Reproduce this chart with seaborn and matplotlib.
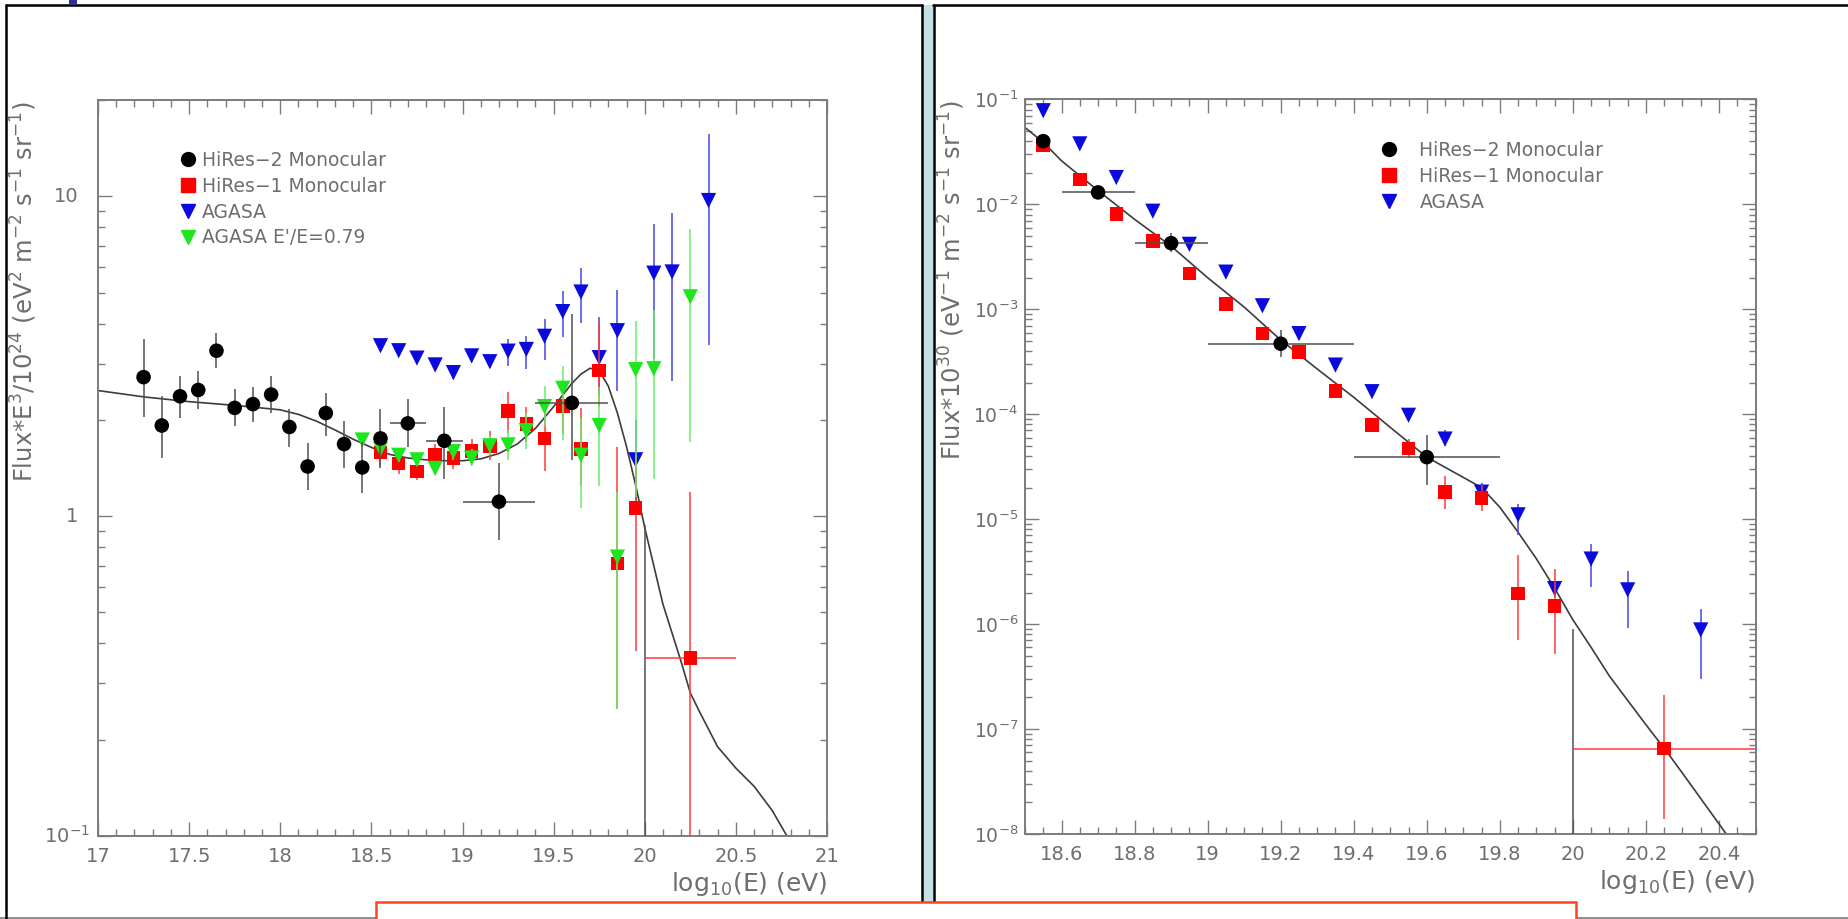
import numpy as np
import pandas as pd
import matplotlib
matplotlib.use("Agg")
import matplotlib.pyplot as plt
import seaborn as sns
from matplotlib.patches import Rectangle
from matplotlib.lines import Line2D
from matplotlib.ticker import FixedLocator, FixedFormatter, MultipleLocator, LogLocator, NullFormatter
import matplotlib.transforms as mtransforms

# ======================= LEFT PANEL DATA (Flux*E^3/1e24) =======================
L_h2_x  = [17.25, 17.35, 17.45, 17.55, 17.65, 17.75, 17.85, 17.95, 18.05, 18.15, 18.25, 18.35, 18.45, 18.55, 18.7, 18.9, 19.2, 19.6]
L_h2_y  = [2.72, 1.92, 2.37, 2.48, 3.29, 2.18, 2.24, 2.40, 1.90, 1.43, 2.10, 1.68, 1.42, 1.75, 1.95, 1.72, 1.11, 2.26]
L_h2_hi = [3.57, 2.37, 2.75, 2.85, 3.73, 2.49, 2.54, 2.74, 2.17, 1.69, 2.43, 1.98, 1.71, 2.16, 2.33, 2.20, 1.47, 4.29]
L_h2_lo = [2.04, 1.52, 2.03, 2.16, 2.91, 1.92, 1.97, 2.10, 1.65, 1.21, 1.78, 1.41, 1.18, 1.41, 1.64, 1.31, 0.84, 1.50]
L_h2_xlo = [np.nan]*14 + [18.6, 18.8, 19.0, 19.4]
L_h2_xhi = [np.nan]*14 + [18.8, 19.0, 19.4, 19.8]
L_h2_zero_x  = [20.0]
L_h2_zero_hi = [0.94]

L_h1_x  = [18.55, 18.65, 18.75, 18.85, 18.95, 19.05, 19.15, 19.25, 19.35, 19.45, 19.55, 19.65, 19.75, 19.85, 19.95, 20.25]
L_h1_y  = [1.58, 1.46, 1.38, 1.55, 1.52, 1.60, 1.66, 2.13, 1.94, 1.75, 2.21, 1.62, 2.85, 0.71, 1.06, 0.36]
L_h1_hi = [1.75, 1.58, 1.48, 1.68, 1.65, 1.74, 1.84, 2.45, 2.20, 2.10, 2.56, 2.18, 4.05, 1.64, 1.55, 1.19]
L_h1_lo = [1.43, 1.35, 1.30, 1.43, 1.40, 1.47, 1.50, 1.82, 1.70, 1.38, 1.80, 1.25, 2.20, 0.25, 0.38, 0.05]
L_h1_xlo = [np.nan]*15 + [20.0]
L_h1_xhi = [np.nan]*15 + [20.5]

L_ag_x  = [18.55, 18.65, 18.75, 18.85, 18.95, 19.05, 19.15, 19.25, 19.35, 19.45, 19.55, 19.65, 19.75, 19.85, 19.95, 20.05, 20.15, 20.35]
L_ag_y  = [3.41, 3.29, 3.12, 2.97, 2.81, 3.17, 3.04, 3.28, 3.32, 3.65, 4.36, 5.02, 3.13, 3.80, 1.50, 5.75, 5.80, 9.70]
L_ag_hi = [3.55, 3.42, 3.25, 3.10, 2.94, 3.32, 3.20, 3.58, 3.67, 4.12, 5.05, 5.96, 4.20, 5.11, 2.00, 8.20, 8.86, 15.7]
L_ag_lo = [3.28, 3.16, 3.00, 2.85, 2.69, 3.03, 2.90, 2.95, 2.88, 3.07, 3.62, 4.02, 2.40, 2.47, 1.10, 3.11, 2.64, 3.44]

L_ag79_x  = [18.45, 18.55, 18.65, 18.75, 18.85, 18.95, 19.05, 19.15, 19.25, 19.35, 19.45, 19.55, 19.65, 19.75, 19.85, 19.95, 20.05, 20.25]
L_ag79_y  = [1.73, 1.62, 1.55, 1.50, 1.41, 1.59, 1.52, 1.66, 1.67, 1.85, 2.20, 2.51, 1.55, 1.92, 0.745, 2.87, 2.89, 4.85]
L_ag79_hi = [1.80, 1.69, 1.62, 1.57, 1.48, 1.68, 1.62, 1.78, 1.86, 2.10, 2.55, 2.95, 2.02, 2.54, 1.19, 4.08, 4.40, 7.90]
L_ag79_lo = [1.66, 1.55, 1.48, 1.43, 1.34, 1.50, 1.43, 1.55, 1.50, 1.62, 1.92, 1.73, 1.06, 1.24, 0.25, 1.15, 1.31, 1.71]

L_fit_x = [17.0, 17.25, 17.5, 17.75, 18.0, 18.1, 18.2, 18.3, 18.4, 18.5, 18.6, 18.7, 18.8, 18.9, 19.0, 19.1,
           19.2, 19.3, 19.4, 19.5, 19.6, 19.65, 19.7, 19.75, 19.8, 19.85, 19.9, 19.95, 20.0, 20.1, 20.2,
           20.25, 20.3, 20.4, 20.5, 20.6, 20.7, 20.78]
L_fit_y = [2.47, 2.36, 2.28, 2.22, 2.15, 2.08, 1.98, 1.86, 1.74, 1.64, 1.56, 1.52, 1.50, 1.49, 1.49, 1.51,
           1.57, 1.68, 1.88, 2.20, 2.60, 2.78, 2.90, 2.85, 2.55, 2.10, 1.65, 1.25, 0.92, 0.53, 0.35,
           0.28, 0.245, 0.19, 0.163, 0.143, 0.12, 0.10]

L_xticks = [17, 17.5, 18, 18.5, 19, 19.5, 20, 20.5, 21]
L_yticks = [0.1, 1, 10]
L_yticklabels = ['$10^{-1}$', '1', '10']

# ======================= RIGHT PANEL DATA (Flux*1e30) =======================
R_h2_x  = [18.55, 18.7, 18.9, 19.2, 19.6]
R_h2_y  = [4.0e-2, 1.30e-2, 4.27e-3, 4.7e-4, 3.9e-5]
R_h2_hi = [4.4e-2, 1.42e-2, 5.3e-3, 6.3e-4, 6.4e-5]
R_h2_lo = [3.6e-2, 1.18e-2, 3.5e-3, 3.5e-4, 2.1e-5]
R_h2_xlo = [np.nan, 18.6, 18.8, 19.0, 19.4]
R_h2_xhi = [np.nan, 18.8, 19.0, 19.4, 19.8]
R_h2_zero_x  = [20.0]
R_h2_zero_hi = [9.0e-7]

R_h1_x  = [18.55, 18.65, 18.75, 18.85, 18.95, 19.05, 19.15, 19.25, 19.35, 19.45, 19.55, 19.65, 19.75, 19.85, 19.95, 20.25]
R_h1_y  = [3.68e-2, 1.73e-2, 8.05e-3, 4.49e-3, 2.20e-3, 1.12e-3, 5.86e-4, 3.92e-4, 1.66e-4, 7.94e-5, 4.72e-5, 1.81e-5, 1.59e-5, 1.96e-6, 1.48e-6, 6.5e-8]
R_h1_hi = [3.9e-2, 1.85e-2, 8.6e-3, 4.8e-3, 2.35e-3, 1.2e-3, 6.3e-4, 4.25e-4, 1.8e-4, 8.8e-5, 5.8e-5, 2.57e-5, 2.1e-5, 4.57e-6, 3.34e-6, 2.1e-7]
R_h1_lo = [3.45e-2, 1.6e-2, 7.5e-3, 4.2e-3, 2.05e-3, 1.04e-3, 5.4e-4, 3.6e-4, 1.52e-4, 7.1e-5, 3.8e-5, 1.26e-5, 1.2e-5, 7.05e-7, 5.2e-7, 1.4e-8]
R_h1_xlo = [np.nan]*15 + [20.0]
R_h1_xhi = [np.nan]*15 + [20.6]

R_ag_x  = [18.55, 18.65, 18.75, 18.85, 18.95, 19.05, 19.15, 19.25, 19.35, 19.45, 19.55, 19.65, 19.75, 19.85, 19.95, 20.05, 20.15, 20.35]
R_ag_y  = [7.8e-2, 3.77e-2, 1.80e-2, 8.6e-3, 4.16e-3, 2.26e-3, 1.08e-3, 5.86e-4, 2.94e-4, 1.64e-4, 9.77e-5, 5.8e-5, 1.81e-5, 1.10e-5, 2.18e-6, 4.17e-6, 2.12e-6, 8.8e-7]
R_ag_hi = [8.3e-2, 4.0e-2, 1.9e-2, 9.1e-3, 4.4e-3, 2.4e-3, 1.15e-3, 6.3e-4, 3.2e-4, 1.8e-4, 1.1e-4, 7.1e-5, 2.2e-5, 1.39e-5, 2.6e-6, 5.77e-6, 3.21e-6, 1.38e-6]
R_ag_lo = [7.3e-2, 3.5e-2, 1.7e-2, 8.1e-3, 3.9e-3, 2.1e-3, 1.0e-3, 5.4e-4, 2.7e-4, 1.5e-4, 8.9e-5, 5.0e-5, 1.5e-5, 7.0e-6, 1.8e-6, 2.26e-6, 9.1e-7, 2.99e-7]

R_fit_x = [18.5, 18.55, 18.6, 18.7, 18.8, 18.9, 19.0, 19.1, 19.2, 19.3, 19.4, 19.5, 19.6, 19.7, 19.75,
           19.8, 19.85, 19.9, 19.95, 20.0, 20.05, 20.1, 20.2, 20.26, 20.3, 20.42]
R_fit_y = [5.4e-2, 3.9e-2, 2.6e-2, 1.35e-2, 7.2e-3, 4.0e-3, 2.0e-3, 1.05e-3, 5.1e-4, 2.7e-4, 1.45e-4, 7.5e-5, 3.9e-5, 2.5e-5, 2.0e-5,
           1.3e-5, 7.5e-6, 4.2e-6, 2.2e-6, 1.1e-6, 6.0e-7, 3.2e-7, 1.1e-7, 5.9e-8, 3.8e-8, 1.0e-8]

R_xticks = [18.6, 18.8, 19.0, 19.2, 19.4, 19.6, 19.8, 20.0, 20.2, 20.4]
R_yticks = [1e-8, 1e-7, 1e-6, 1e-5, 1e-4, 1e-3, 1e-2, 1e-1]
R_yticklabels = ['$10^{-8}$', '$10^{-7}$', '$10^{-6}$', '$10^{-5}$', '$10^{-4}$', '$10^{-3}$', '$10^{-2}$', '$10^{-1}$']

LABELS = ['HiRes\u22122 Monocular', 'HiRes\u22121 Monocular', 'AGASA', "AGASA E'/E=0.79"]

# ======================= STYLE =======================
sns.set_theme(style="white")
plt.rcParams['font.family'] = ['DejaVu Sans']
plt.rcParams['mathtext.fontset'] = 'dejavusans'

C_BLACK, C_RED, C_BLUE, C_GREEN = '#000000', '#ff0000', '#0a0adc', '#1ee61e'
E_BLACK, E_RED, E_BLUE, E_GREEN = '#505050', '#ff3b3b', '#4646e0', '#66ee66'
AX_GREY = '#7c7c7c'
TXT_GREY = '#6e6e6e'
TICK_FS = 14

W, H = 1848, 919
fig = plt.figure(figsize=(W / 100, H / 100), dpi=100)
fig.patch.set_facecolor('white')


def fx(px):
    return px / W


def fy(py):
    return 1 - py / H


def frect(x0, y0, x1, y1, **kw):
    fig.add_artist(Rectangle((fx(x0), fy(y1)), fx(x1) - fx(x0), fy(y0) - fy(y1),
                             transform=fig.transFigure, **kw))


def fline(xs, ys, **kw):
    fig.add_artist(Line2D([fx(v) for v in xs], [fy(v) for v in ys], transform=fig.transFigure, **kw))


# slide decorations
frect(922, 5, 933, 919, facecolor='#c4e0e5', edgecolor='none', zorder=0)
fline([0, W], [918, 918], color='#7a7a7a', lw=1.2, zorder=1)
fline([6, 6], [5, 919], color='black', lw=1.8, zorder=1)
fline([6, 922], [5, 5], color='black', lw=1.8, zorder=1)
fline([921.5, 921.5], [5, 919], color='black', lw=1.8, zorder=1)
fline([933.5, 933.5], [5, 919], color='black', lw=1.8, zorder=1)
fline([933, W], [5, 5], color='black', lw=1.8, zorder=1)
frect(69, 0, 77, 5, facecolor='#2e3192', edgecolor='none', zorder=2)
frect(376, 902, 1576, 930, facecolor='white', edgecolor='#ff4422', lw=1.8, zorder=3)


def series(ax, x, y, lo, hi, color, ecolor, marker, size, z, xlo=None, xhi=None):
    ax.vlines(x, lo, hi, color=ecolor, lw=1.1, zorder=z)
    if xlo is not None:
        ya, xl, xh = np.array(y), np.array(xlo, float), np.array(xhi, float)
        m = ~np.isnan(xl)
        ax.hlines(ya[m], xl[m], xh[m], color=ecolor, lw=1.1, zorder=z)
    df = pd.DataFrame({'x': x, 'y': y})
    sns.scatterplot(data=df, x='x', y='y', marker=marker, color=color, s=size,
                    edgecolor='none', linewidth=0, ax=ax, zorder=z + 0.5, legend=False)


def style_axes(ax):
    for sp in ax.spines.values():
        sp.set_color(AX_GREY)
        sp.set_linewidth(1.4)
    ax.tick_params(which='both', direction='in', top=True, right=True, bottom=True, left=True,
                   color=AX_GREY, labelcolor=TXT_GREY, labelsize=TICK_FS, width=1.0)
    ax.tick_params(which='major', length=10)
    ax.tick_params(which='minor', length=5)
    ax.tick_params(axis='x', pad=8)
    ax.set_xlabel('')
    ax.set_ylabel('')
    ax.grid(False)


# ======================= LEFT PANEL =======================
ax1 = fig.add_axes([fx(98), fy(836), fx(827) - fx(98), fy(100) - fy(836)])
ax1.set_yscale('log')
sns.lineplot(x=L_fit_x, y=L_fit_y, ax=ax1, color='#3c3c3c', lw=1.2, sort=False, estimator=None, zorder=2)
ax1.vlines(L_h2_zero_x, 0.01, L_h2_zero_hi, color=E_BLACK, lw=1.1, zorder=3)
series(ax1, L_ag_x, L_ag_y, L_ag_lo, L_ag_hi, C_BLUE, E_BLUE, 'v', 120, 4)
series(ax1, L_h1_x, L_h1_y, L_h1_lo, L_h1_hi, C_RED, E_RED, 's', 95, 5, L_h1_xlo, L_h1_xhi)
series(ax1, L_ag79_x, L_ag79_y, L_ag79_lo, L_ag79_hi, C_GREEN, E_GREEN, 'v', 120, 6)
series(ax1, L_h2_x, L_h2_y, L_h2_lo, L_h2_hi, C_BLACK, E_BLACK, 'o', 110, 7, L_h2_xlo, L_h2_xhi)
ax1.set_xlim(17, 21)
ax1.set_ylim(0.1, 20)
style_axes(ax1)
ax1.xaxis.set_major_locator(FixedLocator(L_xticks))
ax1.xaxis.set_major_formatter(FixedFormatter([f'{v:g}' for v in L_xticks]))
ax1.xaxis.set_minor_locator(MultipleLocator(0.1))
ax1.yaxis.set_major_locator(FixedLocator(L_yticks))
ax1.yaxis.set_major_formatter(NullFormatter())
ax1.yaxis.set_minor_locator(LogLocator(base=10, subs=np.arange(2, 10), numticks=20))
ax1.yaxis.set_minor_formatter(NullFormatter())
trans1 = mtransforms.blended_transform_factory(fig.transFigure, ax1.transData)
for v, lab in zip(L_yticks, L_yticklabels):
    xr = 90 if '^' in lab else 78
    fig.text(fx(xr), v, lab, transform=trans1, ha='right', va='center', fontsize=TICK_FS, color=TXT_GREY)

fig.text(fx(24), fy(101), 'Flux*E$^{3}$/10$^{24}$ (eV$^{2}$ m$^{-2}$ s$^{-1}$ sr$^{-1}$)',
         rotation=90, ha='center', va='top', fontsize=17.5, color=TXT_GREY)
fig.text(fx(827), fy(884), 'log$_{10}$(E) (eV)', ha='right', va='center', fontsize=18, color=TXT_GREY)

h_black = Line2D([], [], marker='o', color=C_BLACK, ls='none', markersize=10)
h_red = Line2D([], [], marker='s', color=C_RED, ls='none', markersize=9.5)
h_blue = Line2D([], [], marker='v', color=C_BLUE, ls='none', markersize=10)
h_green = Line2D([], [], marker='v', color=C_GREEN, ls='none', markersize=10)
ax1.legend([h_black, h_red, h_blue, h_green], LABELS, loc='upper left',
           bbox_to_anchor=((180 - 98) / 729, (836 - 151) / 736), frameon=False, fontsize=13.5,
           labelcolor=TXT_GREY, handlelength=0.9, handletextpad=0.25, labelspacing=0.36,
           borderpad=0, borderaxespad=0)

# ======================= RIGHT PANEL =======================
ax2 = fig.add_axes([fx(1025), fy(834), fx(1755.5) - fx(1025), fy(99.4) - fy(834)])
ax2.set_yscale('log')
sns.lineplot(x=R_fit_x, y=R_fit_y, ax=ax2, color='#3c3c3c', lw=1.2, sort=False, estimator=None, zorder=2)
ax2.vlines(R_h2_zero_x, 1e-10, R_h2_zero_hi, color=E_BLACK, lw=1.1, zorder=3)
series(ax2, R_ag_x, R_ag_y, R_ag_lo, R_ag_hi, C_BLUE, E_BLUE, 'v', 120, 4)
series(ax2, R_h1_x, R_h1_y, R_h1_lo, R_h1_hi, C_RED, E_RED, 's', 95, 5, R_h1_xlo, R_h1_xhi)
series(ax2, R_h2_x, R_h2_y, R_h2_lo, R_h2_hi, C_BLACK, E_BLACK, 'o', 110, 7, R_h2_xlo, R_h2_xhi)
ax2.set_xlim(18.5, 20.5)
ax2.set_ylim(1e-8, 1e-1)
style_axes(ax2)
ax2.xaxis.set_major_locator(FixedLocator(R_xticks))
ax2.xaxis.set_major_formatter(FixedFormatter([f'{v:g}' for v in R_xticks]))
ax2.xaxis.set_minor_locator(MultipleLocator(0.05))
ax2.yaxis.set_major_locator(FixedLocator(R_yticks))
ax2.yaxis.set_major_formatter(FixedFormatter(R_yticklabels))
ax2.yaxis.set_minor_locator(LogLocator(base=10, subs=np.arange(2, 10), numticks=20))
ax2.yaxis.set_minor_formatter(NullFormatter())
ax2.tick_params(axis='y', pad=5, labelsize=13.5)

fig.text(fx(952), fy(100), 'Flux*10$^{30}$ (eV$^{-1}$ m$^{-2}$ s$^{-1}$ sr$^{-1}$)',
         rotation=90, ha='center', va='top', fontsize=17.5, color=TXT_GREY)
fig.text(fx(1755), fy(882), 'log$_{10}$(E) (eV)', ha='right', va='center', fontsize=18, color=TXT_GREY)

ax2.legend([h_black, h_red, h_blue], LABELS[:3], loc='upper left',
           bbox_to_anchor=((1381 - 1025) / 730.5, (834 - 141) / 734.6), frameon=False, fontsize=13.5,
           labelcolor=TXT_GREY, handlelength=0.9, handletextpad=1.15, labelspacing=0.36,
           borderpad=0, borderaxespad=0)

fig.savefig('out.png', dpi=100, facecolor='white')
